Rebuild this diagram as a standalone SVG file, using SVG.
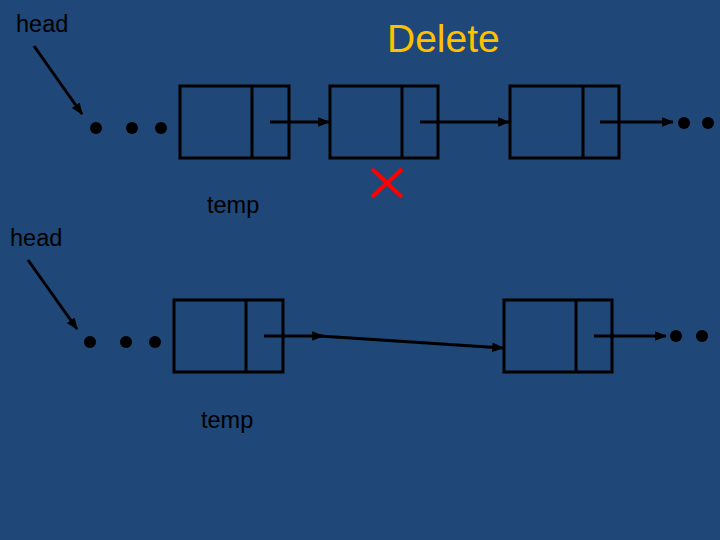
<svg xmlns="http://www.w3.org/2000/svg" width="720" height="540" viewBox="0 0 720 540">
<defs>
<marker id="ah" viewBox="0 0 10 10" refX="9" refY="5" markerWidth="4" markerHeight="4" orient="auto" markerUnits="strokeWidth"><path d="M0,1 L10,5 L0,9 z" fill="#000"/></marker>
<style>
.box{fill:none;stroke:#000;stroke-width:3}
.ln{stroke:#000;stroke-width:3;fill:none}
.arr{stroke:#000;stroke-width:3;fill:none;marker-end:url(#ah)}
.lbl{font-family:"Liberation Sans",Arial,sans-serif;font-size:23.5px;fill:#000}
.dot{fill:#000}
</style>
</defs>
<rect width="720" height="540" fill="#1F4778"/>
<text x="387" y="52" font-family="Liberation Sans, Arial, sans-serif" font-size="39" fill="#FFC000">Delete</text>
<g id="head1"><text class="lbl" x="16" y="32">head</text></g>
<g id="temp1"><text class="lbl" x="207" y="213">temp</text></g>
<g id="head2"><text class="lbl" x="10" y="246">head</text></g>
<g id="temp2"><text class="lbl" x="201" y="428">temp</text></g>
<g id="dots1"><circle class="dot" cx="96" cy="128" r="6"/><circle class="dot" cx="132" cy="128" r="6"/><circle class="dot" cx="161" cy="128" r="6"/></g>
<g id="dots2"><circle class="dot" cx="684" cy="123" r="6"/><circle class="dot" cx="708" cy="123" r="6"/></g>
<g id="dots3"><circle class="dot" cx="90" cy="342" r="6"/><circle class="dot" cx="126" cy="342" r="6"/><circle class="dot" cx="155" cy="342" r="6"/></g>
<g id="dots4"><circle class="dot" cx="676" cy="336" r="6"/><circle class="dot" cx="702" cy="336" r="6"/></g>
<g id="node1"><rect class="box" x="180" y="86" width="109" height="72"/><line class="ln" x1="252" y1="86" x2="252" y2="158"/></g>
<g id="node2"><rect class="box" x="330" y="86" width="108" height="72"/><line class="ln" x1="402" y1="86" x2="402" y2="158"/></g>
<g id="node3"><rect class="box" x="510" y="86" width="109" height="72"/><line class="ln" x1="583" y1="86" x2="583" y2="158"/></g>
<g id="node4"><rect class="box" x="174" y="300" width="109" height="72"/><line class="ln" x1="246" y1="300" x2="246" y2="372"/></g>
<g id="node5"><rect class="box" x="504" y="300" width="108" height="72"/><line class="ln" x1="576" y1="300" x2="576" y2="372"/></g>
<g id="cross"><path d="M372,169 L402,197 M402,169 L372,197" stroke="#FF0000" stroke-width="4" fill="none"/></g>
<g id="connectors">
<line class="arr" x1="34" y1="46" x2="82" y2="114"/>
<line class="arr" x1="270" y1="122" x2="329" y2="122"/>
<line class="arr" x1="420" y1="122" x2="509" y2="122"/>
<line class="arr" x1="600" y1="122" x2="673" y2="122"/>
<line class="arr" x1="28" y1="260" x2="77" y2="329"/>
<line class="arr" x1="264" y1="336" x2="323" y2="336"/>
<line class="arr" x1="320" y1="336" x2="503" y2="348"/>
<line class="arr" x1="594" y1="336" x2="666" y2="336"/>
</g>
</svg>
